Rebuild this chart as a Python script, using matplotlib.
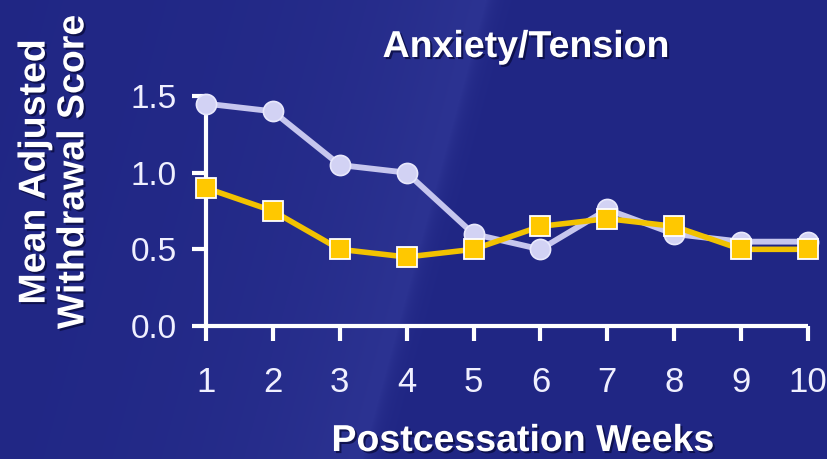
import numpy as np
import matplotlib
matplotlib.use("Agg")
import matplotlib.pyplot as plt
import matplotlib.patheffects as pe

plt.rcParams['font.family'] = ['Liberation Sans', 'DejaVu Sans']

# ---------------------------
# Data
# ---------------------------

weeks = [1, 2, 3, 4, 5, 6, 7, 8, 9, 10]
placebo = [1.45, 1.40, 1.05, 1.00, 0.60, 0.50, 0.76, 0.60, 0.55, 0.55]
treated = [0.90, 0.75, 0.50, 0.45, 0.50, 0.65, 0.70, 0.65, 0.50, 0.50]
y_ticks = [0.0, 0.5, 1.0, 1.5]
y_ticklabels = ["0.0", "0.5", "1.0", "1.5"]

title = "Anxiety/Tension"
xlabel = "Postcessation Weeks"
ylabel = "Mean Adjusted\nWithdrawal Score"

# ---------------------------
# Figure + background
# ---------------------------

fig = plt.figure(figsize=(8.27, 4.59), dpi=100)

bg = fig.add_axes([0, 0, 1, 1], zorder=-10)
bg.set_axis_off()
h, w = 459, 827
yy, xx = np.mgrid[0:h, 0:w]
# diagonal light band, sharper on the right edge
edge = 485 - 0.27 * yy
d = xx - edge
band = np.where(d > 0, np.exp(-d / 10.0), np.exp(d / 170.0))
base = np.array([32, 38, 132]) / 255.0
light = np.array([44, 51, 146]) / 255.0
img = base[None, None, :] + (light - base)[None, None, :] * band[..., None]
bg.imshow(img, extent=[0, 1, 0, 1], aspect='auto', origin='upper')
bg.set_xlim(0, 1)
bg.set_ylim(0, 1)

ax = fig.add_axes([206 / 827, 1 - 326 / 459, 602 / 827, 230 / 459])
ax.patch.set_alpha(0)

# ---------------------------
# Lines
# ---------------------------

ax.plot(weeks, placebo, color='#c6c6ee', lw=4.2, marker='o', ms=14.5,
        mfc='#d2d2f4', mec='#e8e8fc', mew=1.2, clip_on=False, zorder=5)
ax.plot(weeks, treated, color='#f2c200', lw=4.0, marker='s', ms=14,
        mfc='#ffc800', mec='white', mew=1.3, clip_on=False, zorder=6)

# ---------------------------
# Axes styling
# ---------------------------

ax.set_xlim(1, 10)
ax.set_ylim(0, 1.5)
ax.set_xticks(weeks)
ax.set_yticks(y_ticks)
ax.set_yticklabels(y_ticklabels)

for s in ['top', 'right']:
    ax.spines[s].set_visible(False)
for s in ['left', 'bottom']:
    ax.spines[s].set_color('white')
    ax.spines[s].set_linewidth(3)
    ax.spines[s].set_capstyle('butt')

ax.tick_params(axis='y', colors='white', length=10, width=3, pad=11,
               labelsize=24, labelcolor='#f0f0ff')
ax.tick_params(axis='x', colors='white', length=11, width=3, pad=18,
               labelsize=25, labelcolor='#f0f0ff')

shadow = [pe.withSimplePatchShadow(offset=(1.5, -1.5), shadow_rgbFace='#0a0c40', alpha=0.8)]

fig.text(526 / 827, 1 - 57 / 459, title, ha='center', va='baseline',
         fontsize=27, fontweight='bold', color='white', path_effects=shadow)
fig.text(523 / 827, 1 - 451 / 459, xlabel, ha='center', va='baseline',
         fontsize=27, fontweight='bold', color='white', path_effects=shadow)
fig.text(54 / 827, 1 - 172 / 459, ylabel, ha='center', va='center',
         rotation=90, fontsize=27, fontweight='bold', color='white',
         linespacing=1.1, path_effects=shadow)

fig.savefig("out.png", dpi=100, facecolor=fig.get_facecolor())
